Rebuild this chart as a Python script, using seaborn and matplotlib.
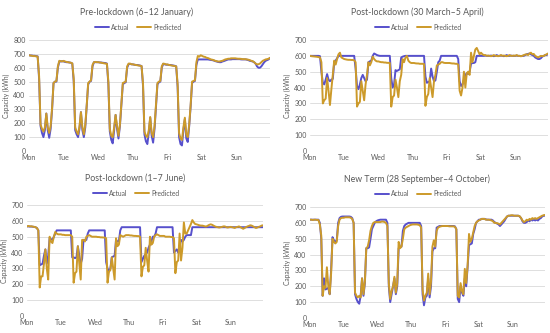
import numpy as np
import pandas as pd
import matplotlib
matplotlib.use('Agg')
import matplotlib.pyplot as plt
from matplotlib.lines import Line2D
import seaborn as sns

# Hourly capacity (kWh), one row per day Mon..Sun
days = ['Mon', 'Tue', 'Wed', 'Thu', 'Fri', 'Sat', 'Sun']

jan_actual = [
    690, 688, 688, 686, 686, 684, 682, 520, 180, 130, 100, 150, 270, 150, 95, 160, 300, 490, 500, 500, 600, 645, 645, 648,
    645, 642, 640, 640, 638, 636, 630, 500, 150, 120, 100, 160, 280, 150, 100, 170, 320, 480, 500, 505, 610, 640, 640, 640,
    640, 638, 638, 636, 635, 634, 630, 480, 140, 80, 55, 150, 260, 160, 90, 180, 330, 480, 490, 495, 600, 625, 628, 625,
    624, 622, 620, 620, 618, 616, 612, 470, 120, 70, 50, 130, 240, 110, 60, 160, 320, 480, 495, 500, 600, 628, 625, 622,
    622, 620, 620, 618, 616, 614, 610, 460, 100, 50, 40, 150, 230, 90, 65, 180, 320, 490, 500, 505, 620, 660, 660, 660,
    660, 660, 660, 660, 660, 658, 656, 655, 652, 648, 645, 642, 640, 640, 645, 648, 652, 656, 660, 660, 660, 662, 662, 662,
    662, 662, 662, 660, 660, 660, 660, 658, 655, 650, 648, 645, 640, 630, 610, 600, 600, 610, 625, 640, 650, 655, 660, 670,
]
jan_pred = [
    690, 688, 686, 684, 684, 682, 680, 540, 190, 160, 140, 170, 270, 170, 130, 180, 310, 490, 500, 505, 610, 650, 648, 645,
    650, 645, 642, 640, 638, 636, 632, 520, 170, 140, 120, 180, 280, 170, 120, 190, 330, 490, 500, 510, 620, 640, 642, 640,
    640, 638, 636, 634, 632, 630, 628, 500, 160, 110, 100, 170, 260, 180, 110, 190, 340, 490, 495, 500, 610, 630, 630, 625,
    625, 622, 620, 618, 616, 614, 612, 490, 140, 110, 100, 150, 245, 130, 100, 180, 330, 490, 500, 505, 610, 630, 628, 624,
    624, 620, 618, 616, 614, 612, 610, 480, 130, 90, 80, 170, 240, 120, 100, 190, 330, 500, 505, 510, 640, 685, 680, 690,
    685, 680, 678, 672, 670, 665, 660, 658, 655, 650, 648, 645, 645, 648, 650, 655, 660, 662, 665, 665, 668, 668, 668, 668,
    666, 665, 665, 664, 662, 662, 662, 660, 658, 655, 650, 648, 640, 630, 625, 625, 630, 640, 650, 655, 660, 662, 665, 672,
]

apr_actual = [
    600, 600, 600, 600, 600, 600, 600, 598, 500, 430, 420, 450, 485, 450, 440, 450, 455, 560, 570, 585, 600, 600, 600, 600,
    600, 600, 600, 600, 600, 600, 600, 600, 520, 410, 390, 420, 460, 480, 460, 440, 450, 560, 565, 570, 600, 615, 610, 605,
    602, 600, 600, 600, 600, 600, 600, 600, 600, 460, 400, 420, 510, 505, 510, 515, 590, 595, 598, 600, 600, 600, 600, 600,
    600, 600, 600, 600, 600, 600, 600, 600, 600, 470, 430, 435, 440, 520, 470, 440, 445, 500, 560, 570, 600, 600, 600, 600,
    600, 600, 600, 600, 600, 600, 600, 600, 580, 440, 410, 420, 450, 480, 490, 485, 500, 550, 555, 555, 560, 600, 600, 600,
    600, 600, 600, 602, 600, 600, 600, 602, 600, 598, 600, 605, 600, 600, 602, 600, 598, 600, 605, 600, 600, 602, 600, 600,
    600, 602, 600, 600, 598, 600, 600, 605, 610, 612, 615, 610, 605, 600, 590, 585, 580, 580, 585, 595, 600, 605, 605, 610,
]
apr_pred = [
    600, 598, 597, 596, 595, 594, 592, 590, 560, 300, 320, 330, 460, 380, 290, 390, 480, 570, 545, 580, 610, 620, 590, 585,
    580, 578, 576, 575, 575, 574, 574, 572, 560, 280, 300, 310, 440, 380, 320, 420, 480, 560, 540, 560, 595, 580, 570, 565,
    565, 562, 560, 560, 558, 558, 556, 556, 555, 280, 340, 350, 450, 400, 340, 440, 480, 580, 560, 590, 600, 570, 560, 555,
    555, 555, 553, 552, 552, 550, 550, 550, 548, 285, 340, 360, 460, 400, 340, 440, 480, 540, 545, 550, 560, 560, 556, 555,
    555, 555, 555, 553, 552, 552, 550, 550, 545, 380, 350, 400, 500, 400, 490, 500, 480, 620, 560, 600, 640, 650, 630, 610,
    620, 610, 605, 605, 600, 602, 600, 598, 600, 605, 600, 600, 598, 600, 605, 600, 602, 600, 598, 600, 605, 600, 600, 602,
    600, 605, 600, 600, 598, 600, 605, 608, 610, 605, 615, 620, 610, 612, 600, 595, 590, 595, 600, 598, 600, 605, 610, 615,
]

jun_actual = [
    565, 565, 564, 564, 563, 562, 560, 555, 540, 320, 325, 330, 380, 420, 330, 380, 490, 485, 480, 500, 520, 540, 540, 540,
    540, 540, 540, 540, 540, 540, 540, 540, 370, 370, 365, 370, 440, 380, 330, 360, 480, 480, 480, 520, 540, 540, 540, 540,
    540, 540, 540, 540, 540, 540, 540, 540, 340, 300, 280, 300, 370, 375, 380, 480, 470, 470, 540, 560, 560, 560, 560, 560,
    560, 560, 560, 560, 560, 560, 560, 560, 560, 340, 360, 380, 390, 400, 430, 450, 470, 500, 500, 520, 560, 560, 560, 560,
    560, 560, 560, 560, 560, 560, 560, 560, 400, 410, 420, 400, 440, 480, 470, 480, 500, 510, 510, 510, 510, 560, 560, 560,
    560, 560, 560, 560, 560, 560, 560, 560, 560, 560, 560, 560, 560, 560, 560, 560, 560, 560, 560, 560, 560, 560, 560, 560,
    560, 560, 560, 560, 560, 560, 560, 560, 560, 560, 560, 560, 560, 560, 560, 560, 560, 560, 560, 560, 560, 560, 560, 560,
]
jun_pred = [
    565, 568, 565, 566, 564, 562, 560, 555, 540, 180, 250, 250, 330, 420, 300, 230, 500, 470, 460, 500, 530, 520, 515, 515,
    515, 512, 512, 510, 510, 510, 510, 510, 500, 210, 270, 280, 440, 330, 230, 480, 480, 470, 500, 505, 510, 505, 500, 500,
    500, 500, 498, 498, 496, 496, 495, 495, 490, 210, 280, 290, 370, 300, 230, 490, 440, 450, 510, 505, 500, 505, 510, 510,
    510, 508, 508, 506, 505, 505, 504, 504, 500, 250, 310, 320, 430, 350, 280, 500, 450, 460, 500, 510, 515, 510, 505, 505,
    505, 505, 500, 500, 500, 500, 498, 498, 490, 270, 340, 350, 520, 350, 430, 590, 520, 520, 540, 560, 580, 605, 590, 580,
    578, 575, 572, 570, 570, 568, 565, 565, 570, 575, 578, 575, 570, 565, 562, 560, 558, 560, 562, 565, 565, 560, 558, 560,
    562, 560, 558, 555, 560, 562, 565, 560, 555, 550, 555, 560, 565, 568, 572, 570, 565, 560, 555, 558, 562, 565, 570, 572,
]

oct_actual = [
    620, 620, 620, 620, 620, 620, 620, 600, 500, 140, 250, 180, 185, 190, 150, 300, 510, 490, 480, 490, 600, 630, 638, 640,
    640, 640, 640, 640, 640, 638, 630, 600, 150, 120, 100, 90, 140, 250, 140, 220, 440, 440, 445, 500, 560, 580, 600, 610,
    615, 618, 620, 620, 620, 620, 620, 600, 200, 100, 150, 200, 250, 150, 200, 440, 450, 450, 550, 580, 590, 595, 600, 600,
    600, 600, 600, 600, 600, 600, 600, 580, 150, 80, 130, 140, 250, 130, 200, 420, 440, 440, 570, 575, 580, 580, 580, 580,
    580, 580, 580, 580, 580, 580, 580, 578, 560, 120, 100, 200, 160, 140, 250, 200, 320, 460, 465, 470, 530, 560, 600, 610,
    620, 620, 625, 625, 625, 622, 620, 620, 620, 620, 615, 605, 600, 595, 590, 580, 590, 600, 610, 625, 640, 645, 645, 645,
    645, 645, 645, 645, 645, 640, 630, 610, 600, 600, 605, 615, 610, 620, 615, 620, 615, 620, 615, 625, 630, 640, 645, 645,
]
oct_pred = [
    620, 620, 618, 620, 620, 618, 618, 590, 520, 140, 200, 190, 320, 200, 150, 280, 500, 480, 470, 480, 580, 620, 630, 632,
    632, 635, 635, 635, 635, 632, 625, 600, 160, 140, 130, 140, 130, 250, 150, 230, 440, 450, 490, 550, 580, 600, 605, 605,
    605, 605, 605, 608, 608, 605, 600, 580, 220, 120, 170, 200, 260, 160, 220, 480, 440, 450, 500, 560, 570, 575, 580, 585,
    588, 590, 590, 590, 590, 588, 585, 570, 180, 110, 140, 160, 280, 150, 230, 450, 490, 450, 550, 570, 575, 578, 580, 580,
    580, 580, 580, 578, 578, 578, 578, 575, 560, 140, 130, 220, 170, 150, 310, 220, 330, 530, 480, 500, 540, 580, 600, 610,
    615, 620, 625, 625, 625, 620, 620, 620, 618, 615, 610, 600, 600, 598, 595, 590, 600, 610, 620, 630, 640, 645, 645, 648,
    648, 645, 645, 645, 645, 642, 630, 615, 605, 610, 620, 615, 625, 620, 630, 625, 630, 625, 630, 635, 640, 645, 648, 650,
]

titles = ['Pre-lockdown (6\u201312 January)', 'Post-lockdown (30 March\u20135 April)',
          'Post-lockdown (1\u20137 June)', 'New Term (28 September\u20134 October)']

for s in [jan_actual, jan_pred, apr_actual, apr_pred, jun_actual, jun_pred, oct_actual, oct_pred]:
    assert len(s) == 168, len(s)

sns.set_theme(style='white')
plt.rcParams['font.family'] = ['Lato', 'DejaVu Sans']

W, H = 550, 333
fig = plt.figure(figsize=(5.5, 3.33), dpi=100)
grey = '#595959'
c_actual = '#5750CC'
c_pred = '#CC9A2A'

# (title, actual, predicted, ymax, plot box px (left, right, top, bottom), title xy px, legend xy px)
panels = [
    (titles[0], jan_actual, jan_pred, 800, (29, 270, 40, 151), (137, 12), (138, 27)),
    (titles[1], apr_actual, apr_pred, 700, (310, 548, 40, 151), (417, 12), (418, 27)),
    (titles[2], jun_actual, jun_pred, 700, (27, 263, 205, 316), (135, 178), (136, 193)),
    (titles[3], oct_actual, oct_pred, 700, (310, 545, 207, 318), (417, 179), (418, 194)),
]

hours = np.arange(168)
for title, act, pred, ymax, box, tpos, lpos in panels:
    l, r, t, b = box
    ax = fig.add_axes([l / W, 1 - b / H, (r - l) / W, (b - t) / H])
    df = pd.DataFrame({
        'hour': np.concatenate([hours, hours]),
        'kwh': act + pred,
        'series': ['Actual'] * 168 + ['Predicted'] * 168,
    })
    sns.lineplot(data=df, x='hour', y='kwh', hue='series',
                 palette={'Actual': c_actual, 'Predicted': c_pred},
                 linewidth=1.4, ax=ax, legend=False)
    ax.set_xlim(0, 167)
    ax.set_ylim(0, ymax)
    ax.set_yticks(np.arange(0, ymax + 1, 100))
    ax.set_xticks(np.arange(0, 168, 24))
    ax.set_xticklabels(days)
    ax.tick_params(labelsize=5, colors=grey, length=0, pad=2.5)
    ax.grid(axis='y', color='#D9D9D9', linewidth=0.6)
    ax.set_axisbelow(True)
    for sp in ax.spines.values():
        sp.set_visible(False)
    ax.set_xlabel('')
    ax.set_ylabel('Capacity (kWh)', fontsize=4.8, color=grey)
    ax.yaxis.set_label_coords(-19 / (r - l), 0.5)
    fig.text(tpos[0] / W, 1 - tpos[1] / H, title, ha='center', va='center',
             fontsize=6.3, color=grey)
    handles = [Line2D([], [], color=c_actual, lw=1.4), Line2D([], [], color=c_pred, lw=1.4)]
    ax.legend(handles, ['Actual', 'Predicted'], loc='center',
              bbox_to_anchor=(lpos[0] / W, 1 - lpos[1] / H), bbox_transform=fig.transFigure,
              ncol=2, frameon=False, fontsize=4.8, handlelength=2.2, handletextpad=0.3,
              columnspacing=1.0, labelcolor=grey)

fig.savefig('out.png', dpi=100)
